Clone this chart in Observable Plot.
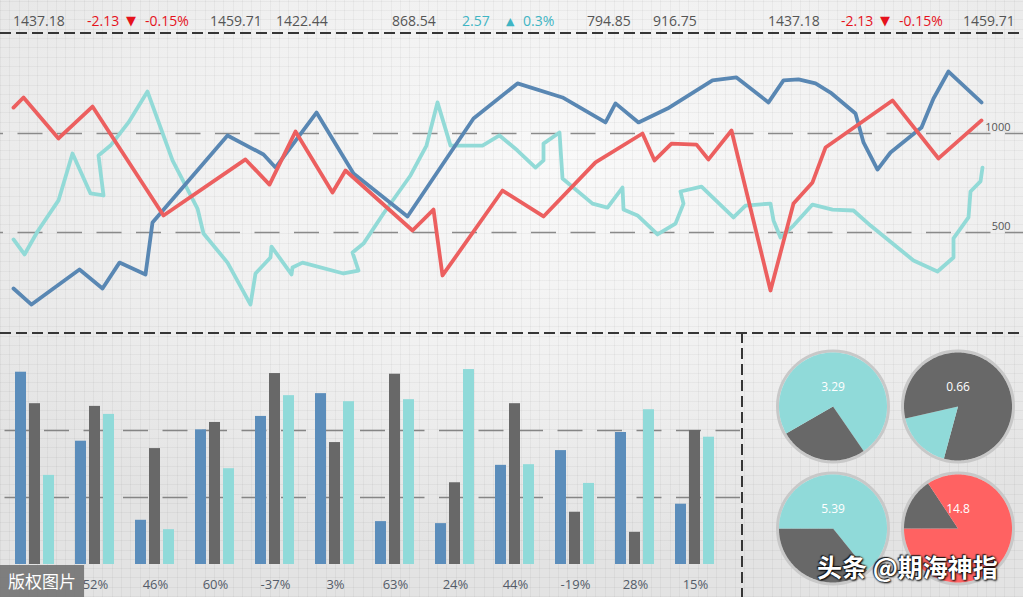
<!DOCTYPE html>
<html><head><meta charset="utf-8">
<script src="https://cdn.jsdelivr.net/npm/d3@7"></script>
<script src="https://cdn.jsdelivr.net/npm/@observablehq/plot@0.6"></script>
<style>
html,body{margin:0;padding:0;background:#e9e9e9;}
body{width:1023px;height:597px;overflow:hidden;font-family:"Open Sans",sans-serif;}
#root{position:relative;width:1023px;height:597px;overflow:hidden;
 background:
  repeating-linear-gradient(90deg, rgba(0,0,0,0.04) 0 1px, transparent 1px 9.3px),
  repeating-linear-gradient(0deg, rgba(0,0,0,0.04) 0 1px, transparent 1px 9.3px),
  radial-gradient(ellipse 75% 65% at 55% 28%, #f9f9f9 0%, #f0f0f0 55%, #e3e3e3 100%);}
.hdash{position:absolute;left:0;width:1023px;height:2px;background:repeating-linear-gradient(to right,#363636 0 11px,transparent 11px 16px);}
.vdash{position:absolute;width:2px;background:repeating-linear-gradient(to bottom,#363636 0 11px,transparent 11px 16px);}
.tick{position:absolute;top:12px;font-size:14px;line-height:18px;white-space:nowrap;}
svg{overflow:visible;}
</style></head><body><div id="root"></div>
<script>
// ---------- DATA ----------
const tickerTexts = ["1437.18","-2.13","\u25BC","-0.15%","1459.71","1422.44","868.54","2.57","\u25B2","0.3%","794.85","916.75","1437.18","-2.13","\u25BC","-0.15%","1459.71"];
const tickerKinds = ["n","d","d","d","n","n","n","u","u","u","n","n","n","d","d","d","n"];

const lineTicks = [500, 1000];
const redLine = [[13,1131],[23,1182],[58,975],[92,1136],[163,586],[245,869],[269,742],[295,1010],[332,702],[345,813],[412,510],[433,616],[442,283],[502,712],[543,581],[595,854],[642,1000],[654,864],[671,949],[696,944],[708,869],[731,1015],[770,207],[793,646],[812,753],[825,929],[892,1167],[938,874],[981,1066]];
const blueLine = [[13,217],[31,136],[79,313],[102,217],[119,348],[145,288],[152,550],[227,990],[263,894],[275,828],[316,1106],[353,798],[407,581],[473,1076],[517,1253],[562,1182],[605,1056],[615,1152],[638,1056],[667,1126],[712,1268],[736,1283],[768,1157],[783,1268],[798,1273],[815,1253],[830,1207],[855,1101],[863,955],[877,818],[890,904],[921,1030],[933,1177],[948,1313],[981,1157]];
const cyanLine = [[13,465],[24,389],[37,505],[58,662],[72,899],[90,697],[103,687],[98,889],[110,939],[128,1056],[147,1212],[172,864],[197,621],[203,495],[227,348],[250,136],[255,293],[270,374],[271,429],[291,288],[292,323],[302,348],[343,293],[358,308],[352,399],[363,444],[383,596],[410,788],[426,939],[437,1157],[450,939],[482,939],[499,990],[517,914],[535,828],[543,864],[543,949],[559,1005],[562,773],[592,646],[607,626],[622,727],[623,616],[637,586],[657,490],[675,545],[683,646],[680,707],[701,732],[733,576],[745,636],[770,646],[773,561],[780,475],[793,535],[812,641],[832,616],[853,611],[870,535],[897,424],[913,359],[937,303],[953,374],[953,470],[968,576],[970,707],[980,758],[982,828]];

// first group's label is hidden under the watermark in the reference
const groupLabels = ["g1","52%","46%","60%","-37%","3%","63%","24%","44%","-19%","28%","15%"];
const barSeries = ["A","B","C"];
const barA = [287,184,66,201,221,255,64,61,148,170,197,90];
const barB = [240,236,173,212,285,182,284,122,240,78,48,200];
const barC = [133,224,52,143,252,243,246,291,149,121,231,190];
const barTicks = [100, 200];

const pieLabels = ["3.29","0.66","5.39","14.8"];
const pieSlices = [
  [["A",40.4],["B",26.3],["A",33.3]],
  [["B",54.2],["A",17.2],["B",28.6]],
  [["A",39.2],["B",35.8],["A",25.0]],
  [["C",75.0],["B",15.7],["C",9.3]]
];

// ---------- STYLE / LAYOUT ----------
const COL = {red:"#ec5f5f", blue:"#5987b3", cyan:"#92dad7", barBlue:"#5b8dbb", gray:"#686868", barCyan:"#90dad9", pieRed:"#ff6262"};
const tickerColor = {n:"#555555", d:"#e5121c", u:"#3fb5c4"};
const tickerLeft = [13,87,126,145,210,276,392,462,506,523,587,653,768,841,880,899,963];

const root = document.getElementById("root");
function place(el, left, top){ el.style.position="absolute"; el.style.left=left+"px"; el.style.top=top+"px"; root.appendChild(el); return el; }

// ticker row
tickerTexts.forEach((t,i)=>{
  const s = document.createElement("div");
  s.className = "tick";
  s.textContent = t;
  s.style.color = tickerColor[tickerKinds[i]];
  if (t === "\u25BC" || t === "\u25B2") {
    s.style.fontFamily = "'DejaVu Sans', sans-serif";
    s.style.fontSize = t === "\u25BC" ? "13px" : "11px";
    s.style.top = t === "\u25BC" ? "12px" : "13px";
  }
  s.style.left = tickerLeft[i] + "px";
  root.appendChild(s);
});

// separators
const h1 = document.createElement("div"); h1.className="hdash"; h1.style.top="32px"; root.appendChild(h1);
const h2 = document.createElement("div"); h2.className="hdash"; h2.style.top="332px"; root.appendChild(h2);
const v1 = document.createElement("div"); v1.className="vdash"; v1.style.left="741px"; v1.style.top="332px"; v1.style.height="265px"; root.appendChild(v1);

// ---------- LINE CHART ----------
const toRows = (arr, name) => arr.map(([t,v]) => ({t, v, name}));
const lineChart = Plot.plot({
  width: 1023, height: 300,
  marginLeft: 0, marginRight: 0, marginTop: 1, marginBottom: 2,
  x: {domain: [0, 1023], axis: null},
  y: {domain: [0, 1500], axis: null},
  style: {background: "transparent", fontFamily: "Open Sans, sans-serif"},
  marks: [
    Plot.ruleY(lineTicks, {stroke: "#8a8a8a", strokeWidth: 1.4, strokeDasharray: "25,14.5", strokeDashoffset: 22}),
    Plot.text(lineTicks, {y: d => d, text: d => String(d), frameAnchor: "right", textAnchor: "end", dx: -13, dy: -6, fontSize: 11, fill: "#555"}),
    Plot.line(toRows(cyanLine, "cyan"), {x: "t", y: "v", stroke: COL.cyan, strokeWidth: 3.8, strokeLinejoin: "round"}),
    Plot.line(toRows(blueLine, "blue"), {x: "t", y: "v", stroke: COL.blue, strokeWidth: 3.8, strokeLinejoin: "round"}),
    Plot.line(toRows(redLine, "red"), {x: "t", y: "v", stroke: COL.red, strokeWidth: 3.8, strokeLinejoin: "round"})
  ]
});
place(lineChart, 0, 33);

// ---------- BAR CHART ----------
const barRows = [];
groupLabels.forEach((g,i)=>{
  barRows.push({group:g, series:"A", value:barA[i]});
  barRows.push({group:g, series:"B", value:barB[i]});
  barRows.push({group:g, series:"C", value:barC[i]});
});
const barCommon = {width: 742, height: 264, marginTop: 30, marginBottom: 33};
const barGrid = Plot.plot({
  ...barCommon, marginLeft: 0, marginRight: 2,
  x: {domain: [0, 1], axis: null},
  y: {domain: [0, 300], axis: null},
  style: {background: "transparent"},
  marks: [Plot.ruleY(barTicks, {stroke: "#858585", strokeWidth: 1.4, strokeDasharray: "25,14.5", strokeDashoffset: 35})]
});
place(barGrid, 0, 333);
const barChart = Plot.plot({
  ...barCommon, marginLeft: 3, marginRight: 15,
  fx: {domain: groupLabels, padding: 0, axis: "bottom", tickSize: 0, tickPadding: 15, label: null,
       tickFormat: d => d.endsWith("%") ? d : ""},
  x: {domain: barSeries, paddingInner: 0.207, paddingOuter: 0.683, axis: null},
  y: {domain: [0, 300], axis: null},
  color: {domain: barSeries, range: [COL.barBlue, COL.gray, COL.barCyan]},
  style: {background: "transparent", fontSize: "13px", fontFamily: "Open Sans, sans-serif", color: "#545c69"},
  marks: [Plot.barY(barRows, {fx: "group", x: "series", y: "value", fill: "series"})]
});
place(barChart, 0, 333);

// ---------- PIES ----------
const pieRows = pieLabels.map((label,i)=>({label, col: i%2, row: Math.floor(i/2)}));
const polyRows = [];
pieSlices.forEach((slices,i)=>{
  let acc = 0;
  slices.forEach(([series, pct], j)=>{
    const a0 = acc/100*360, a1 = (acc+pct)/100*360;
    acc += pct;
    const id = i + "-" + j;
    const base = {id, series, col: i%2, row: Math.floor(i/2)};
    polyRows.push({...base, px: 0, py: 0});
    const n = Math.max(2, Math.ceil((a1-a0)/1.5));
    for (let k = 0; k <= n; k++) {
      const a = (a0 + (a1-a0)*k/n) * Math.PI/180;
      polyRows.push({...base, px: Math.sin(a), py: Math.cos(a)});
    }
    polyRows.push({...base, px: 0, py: 0});
  });
});
const pieChart = Plot.plot({
  width: 281, height: 264,
  marginLeft: 27.5, marginRight: 3.5, marginTop: 12, marginBottom: 8,
  fx: {padding: 0, axis: null},
  fy: {padding: 0, axis: null},
  x: {domain: [-1.157, 1.157], axis: null},
  y: {domain: [-1.13, 1.13], axis: null},
  color: {domain: ["A","B","C"], range: [COL.barCyan, COL.gray, COL.pieRed]},
  style: {background: "transparent", fontFamily: "Open Sans, sans-serif"},
  marks: [
    Plot.dot(pieRows, {fx: "col", fy: "row", frameAnchor: "middle", r: 55.5, stroke: "#c8c8c8", strokeWidth: 3, fill: "none"}),
    Plot.line(polyRows, {fx: "col", fy: "row", x: "px", y: "py", z: "id", fill: "series", stroke: "none"}),
    Plot.text(pieRows, {fx: "col", fy: "row", frameAnchor: "middle", text: "label", dy: -19, fill: "white", fontSize: 12})
  ]
});
place(pieChart, 742, 333);

// ---------- WATERMARKS ----------
const wm1 = document.createElement("div");
wm1.textContent = "版权图片";
Object.assign(wm1.style, {width:"84px", height:"32px", background:"rgba(112,112,112,0.88)", color:"#fff", font:"17px 'Noto Sans CJK SC', sans-serif", lineHeight:"32px", textAlign:"center"});
place(wm1, 0, 565);
const wm2 = document.createElement("div");
wm2.textContent = "头条 @期海神指";
Object.assign(wm2.style, {color:"#fff", font:"bold 25px 'Noto Sans CJK SC', sans-serif", lineHeight:"30px", whiteSpace:"nowrap", textShadow:"0 0 2px #000, 1px 1px 2px #000, -1px -1px 1px #222"});
place(wm2, 817, 551);
</script></body></html>
